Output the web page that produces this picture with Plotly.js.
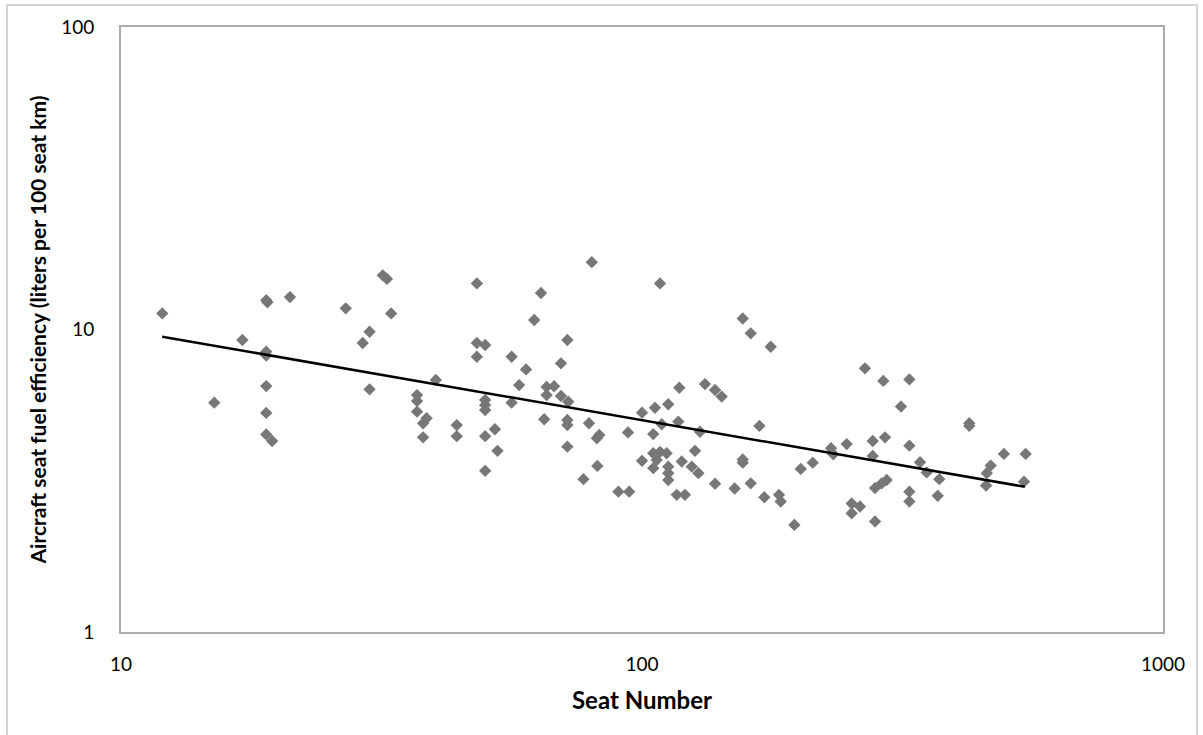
<!DOCTYPE html>
<html>
<head>
<meta charset="utf-8">
<script src="https://cdn.plot.ly/plotly-3.0.1.min.js"></script>
<style>
  html, body { margin: 0; padding: 0; background: #fff; }
  #wrap { position: relative; width: 1203px; height: 735px; overflow: hidden; }
  #chart { position: absolute; left: 0; top: 0; width: 1203px; height: 735px; }
  #frame { position: absolute; left: 6px; top: 4px; width: 1188px; height: 760px;
           border: 2px solid #d4d4d4; pointer-events: none; }
</style>
</head>
<body>
<div id="wrap">
  <div id="chart"></div>
  <div id="frame"></div>
</div>
<script>
// Seat number of each aircraft
const seats = [
  12, 15.1, 17.1, 19, 19.1, 21.1, 19, 19, 19, 19, 19, 19.5,
  27, 30, 29.1, 31.8, 32.4, 33, 30, 37, 37, 37, 38.6, 38, 38, 40.2,
  44.1, 44.1, 48.2, 48.2, 50, 48.2, 50, 50, 50, 50, 52.2, 52.8, 50,
  56.2, 59.9, 56.2, 58.1, 64, 62.1, 71.9, 69.9, 65.6, 67.8, 65.6, 69.9,
  72.2, 64.9, 71.9, 71.9, 71.9, 79.1, 82.8, 81.9, 82.1, 77.2, 80.1,
  90.1, 94.5, 94, 100, 105.9, 112.3, 117.9, 108.3, 132.1, 138.1, 142.2,
  105.1, 109.1, 117.4, 129.2, 100, 105.1, 108.3, 111.5, 106.7, 105.1,
  112.3, 112.3, 112.3, 119.2, 126.4, 124.6, 128.3, 138.1, 150.6, 116.6, 120.9,
  156.1, 161.7, 176.6, 168, 156.1, 156.1, 161.7, 171.7, 183.2, 184.6, 196.1,
  201.7, 212.7, 230.6, 232.9, 247.1, 267.9, 290.5, 326, 314.1, 277.2, 292.7,
  277.2, 326, 280.1, 288.5, 294.9, 252.6, 262, 252.6, 280.1, 326, 326,
  341.7, 351.9, 372.1, 369.5, 424.8, 424.8, 467, 459, 457.5, 495, 545, 541
];
// Seat fuel efficiency (liters per 100 seat km)
const efficiency = [
  11.3, 5.73, 9.23, 12.5, 12.3, 12.8, 8.45, 8.2, 6.5, 5.3, 4.5, 4.28,
  11.75, 9.83, 9.02, 15.1, 14.7, 11.3, 6.34, 6.07, 5.8, 5.35, 5.09, 4.9, 4.4, 6.81,
  4.83, 4.44, 14.2, 9.02, 8.89, 8.13, 5.85, 5.63, 5.42, 4.44, 4.68, 3.97, 3.41,
  8.13, 7.38, 5.73, 6.55, 13.2, 10.75, 9.23, 7.73, 6.46, 6.49, 6.07, 6.03,
  5.77, 5.05, 5.02, 4.83, 4.1, 4.9, 4.48, 4.37, 3.54, 3.2, 16.7,
  2.91, 2.91, 4.57, 5.31, 5.51, 5.66, 6.42, 14.2, 6.6, 6.31, 6.0,
  4.51, 4.86, 4.96, 4.59, 3.68, 3.9, 3.94, 3.9, 3.7, 3.48,
  3.52, 3.35, 3.18, 3.66, 3.97, 3.52, 3.35, 3.09, 2.98, 2.84, 2.84,
  10.87, 9.71, 8.77, 4.8, 3.72, 3.63, 3.1, 2.79, 2.84, 2.7, 2.26,
  3.46, 3.63, 4.05, 3.87, 4.18, 7.44, 6.76, 6.84, 5.56, 4.28, 4.4,
  3.82, 4.13, 2.99, 3.1, 3.18, 2.66, 2.6, 2.47, 2.32, 2.91, 2.7,
  3.64, 3.37, 3.2, 2.82, 4.9, 4.8, 3.55, 3.35, 3.05, 3.88, 3.88, 3.14
];
// Power trend line endpoints (straight on log-log axes)
const trendSeats = [12, 543];
const trendEfficiency = [9.47, 3.02];

const xTickVals = [10, 100, 1000];
const xTickText = ['10', '100', '1000'];
const yTickVals = [1, 10, 100];
const yTickText = ['1', '10', '100'];

const font = 'Lato, "Open Sans", sans-serif';

const traces = [
  {
    x: seats, y: efficiency, type: 'scatter', mode: 'markers',
    marker: { symbol: 'diamond', size: 9.5, color: '#777777', line: { width: 0 } },
    hoverinfo: 'x+y', showlegend: false
  },
  {
    x: trendSeats, y: trendEfficiency, type: 'scatter', mode: 'lines',
    line: { color: '#000000', width: 2.5 }, showlegend: false
  }
];

const layout = {
  width: 1203, height: 735,
  margin: { l: 121, r: 40, t: 27, b: 103, pad: 0 },
  paper_bgcolor: '#ffffff', plot_bgcolor: '#ffffff',
  showlegend: false,
  font: { family: font, color: '#000000' },
  xaxis: {
    type: 'log', range: [1, 3], autorange: false,
    tickvals: xTickVals, ticktext: xTickText,
    ticks: '', showgrid: false, zeroline: false,
    showline: true, mirror: true, linecolor: '#ababab', linewidth: 2,
    tickfont: { family: font, size: 19, color: '#000000' },
    ticklabelstandoff: 14,
    automargin: false,
    title: { text: '<b>Seat Number</b>', font: { family: font, size: 24, color: '#000000' }, standoff: 18 }
  },
  yaxis: {
    type: 'log', range: [0, 2], autorange: false,
    tickvals: yTickVals, ticktext: yTickText,
    ticks: '', showgrid: false, zeroline: false,
    showline: true, mirror: true, linecolor: '#ababab', linewidth: 2,
    tickfont: { family: font, size: 19, color: '#000000' },
    ticklabelstandoff: 21,
    automargin: false,
    title: { text: '<b>Aircraft seat fuel efficiency (liters per 100 seat km)</b>', font: { family: font, size: 21, color: '#000000' }, standoff: 9 }
  }
};

Plotly.newPlot('chart', traces, layout, { displayModeBar: false, staticPlot: true });
</script>
</body>
</html>
